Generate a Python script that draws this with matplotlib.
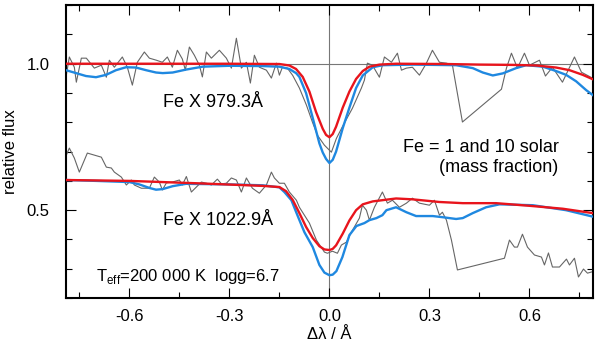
import matplotlib

matplotlib.use("Agg")
import matplotlib.pyplot as plt
from matplotlib.ticker import MultipleLocator

plt.rcParams["font.family"] = ["Liberation Sans", "DejaVu Sans"]
plt.rcParams["mathtext.fontset"] = "custom"
plt.rcParams["mathtext.rm"] = "Liberation Sans"
plt.rcParams["axes.unicode_minus"] = False

# observed spectrum, Fe X 979.3 (continuum at 1.0)
obs_top_x = [-0.789, -0.780, -0.765, -0.759, -0.744, -0.729, -0.705, -0.684, -0.669, -0.660,
             -0.645, -0.621, -0.606, -0.591, -0.576, -0.555, -0.540, -0.519, -0.501, -0.486,
             -0.471, -0.456, -0.441, -0.432, -0.420, -0.405, -0.390, -0.381, -0.369, -0.354,
             -0.330, -0.309, -0.294, -0.279, -0.264, -0.249, -0.237, -0.225, -0.210, -0.189,
             -0.174, -0.159, -0.150, -0.141, -0.126, -0.110, -0.090, -0.069, -0.051, -0.036,
             -0.015, 0.006, 0.021, 0.039, 0.069, 0.096, 0.105, 0.114, 0.129, 0.150,
             0.165, 0.186, 0.204, 0.216, 0.231, 0.249, 0.270, 0.291, 0.309, 0.330,
             0.351, 0.369, 0.399, 0.516, 0.531, 0.546, 0.564, 0.585, 0.600, 0.630,
             0.648, 0.669, 0.699, 0.735, 0.756, 0.789]
obs_top_y = [0.961, 1.023, 0.988, 0.937, 1.019, 1.019, 0.985, 0.995, 0.954, 1.012,
             0.988, 1.023, 0.988, 0.927, 1.005, 1.040, 1.019, 1.012, 1.005, 1.023,
             0.988, 1.046, 1.016, 0.978, 1.057, 1.029, 0.995, 0.955, 1.040, 1.019,
             1.046, 1.019, 0.985, 1.087, 0.985, 1.005, 0.934, 1.029, 0.988, 0.978,
             0.951, 1.002, 0.961, 0.988, 0.985, 0.960, 0.917, 0.859, 0.801, 0.756,
             0.722, 0.698, 0.745, 0.785, 0.848, 0.917, 0.944, 1.002, 0.995, 0.954,
             1.023, 1.005, 1.036, 0.978, 0.985, 0.988, 0.961, 1.002, 1.046, 1.005,
             1.002, 0.995, 0.801, 0.913, 0.985, 1.036, 0.985, 1.036, 0.995, 1.012,
             0.958, 0.988, 0.937, 1.023, 0.971, 0.951]

# observed spectrum, Fe X 1022.9 (shifted down)
obs_low_x = [-0.789, -0.780, -0.765, -0.750, -0.726, -0.705, -0.684, -0.669, -0.654, -0.645,
             -0.624, -0.609, -0.594, -0.585, -0.564, -0.540, -0.525, -0.510, -0.501, -0.489,
             -0.471, -0.450, -0.441, -0.429, -0.414, -0.384, -0.369, -0.354, -0.336, -0.324,
             -0.309, -0.294, -0.279, -0.264, -0.249, -0.231, -0.210, -0.189, -0.174, -0.165,
             -0.150, -0.135, -0.120, -0.099, -0.090, -0.060, -0.039, -0.015, -0.006, 0.009,
             0.024, 0.036, 0.051, 0.066, 0.090, 0.099, 0.111, 0.120, 0.135, 0.159,
             0.174, 0.189, 0.210, 0.231, 0.249, 0.270, 0.300, 0.315, 0.330, 0.339,
             0.351, 0.366, 0.384, 0.525, 0.540, 0.555, 0.564, 0.579, 0.594, 0.615,
             0.636, 0.645, 0.657, 0.669, 0.690, 0.711, 0.720, 0.735, 0.747, 0.762,
             0.774, 0.789]
obs_low_y = [0.688, 0.712, 0.678, 0.630, 0.695, 0.688, 0.681, 0.647, 0.644, 0.630,
             0.613, 0.586, 0.603, 0.586, 0.575, 0.575, 0.613, 0.596, 0.569, 0.593,
             0.596, 0.603, 0.586, 0.615, 0.562, 0.596, 0.592, 0.586, 0.606, 0.590,
             0.592, 0.610, 0.603, 0.562, 0.610, 0.575, 0.558, 0.586, 0.630, 0.610,
             0.592, 0.592, 0.562, 0.534, 0.510, 0.456, 0.398, 0.357, 0.353, 0.360,
             0.353, 0.381, 0.391, 0.425, 0.473, 0.517, 0.500, 0.466, 0.510, 0.562,
             0.524, 0.534, 0.510, 0.524, 0.541, 0.524, 0.517, 0.534, 0.483, 0.493,
             0.466, 0.398, 0.296, 0.336, 0.398, 0.374, 0.374, 0.418, 0.374, 0.347,
             0.340, 0.313, 0.354, 0.306, 0.306, 0.333, 0.313, 0.336, 0.272, 0.299,
             0.285, 0.290]

# model, Fe = 1 solar (red)
red_top_x = [-0.79, -0.30, -0.15, -0.12, -0.10, -0.08, -0.06, -0.04, -0.02, -0.01,
             0.0, 0.01, 0.02, 0.04, 0.06, 0.08, 0.10, 0.12, 0.15, 0.20,
             0.35, 0.45, 0.55, 0.62, 0.68, 0.72, 0.76, 0.79]
red_top_y = [1.0, 1.0, 0.999, 0.994, 0.982, 0.955, 0.905, 0.835, 0.778, 0.757,
             0.749, 0.760, 0.785, 0.850, 0.905, 0.948, 0.975, 0.990, 0.997, 1.0,
             0.999, 0.997, 0.996, 0.994, 0.987, 0.978, 0.962, 0.947]
red_low_x = [-0.79, -0.60, -0.40, -0.20, -0.15, -0.13, -0.11, -0.09, -0.07, -0.05,
             -0.03, -0.015, 0.0, 0.01, 0.02, 0.04, 0.06, 0.08, 0.10, 0.13,
             0.20, 0.25, 0.33, 0.40, 0.50, 0.60, 0.70, 0.79]
red_low_y = [0.603, 0.600, 0.592, 0.583, 0.579, 0.565, 0.535, 0.490, 0.443, 0.405,
             0.377, 0.366, 0.364, 0.368, 0.380, 0.420, 0.465, 0.500, 0.520, 0.530,
             0.540, 0.537, 0.528, 0.524, 0.524, 0.515, 0.505, 0.490]

# model, Fe = 10 solar (blue)
blue_top_x = [-0.79, -0.76, -0.73, -0.70, -0.67, -0.64, -0.61, -0.58, -0.55, -0.52,
              -0.50, -0.47, -0.43, -0.38, -0.30, -0.20, -0.15, -0.12, -0.10, -0.09,
              -0.07, -0.05, -0.03, -0.02, -0.01, 0.0, 0.01, 0.02, 0.04, 0.06,
              0.08, 0.10, 0.13, 0.16, 0.25, 0.38, 0.43, 0.46, 0.49, 0.52,
              0.56, 0.59, 0.64, 0.68, 0.71, 0.74, 0.77, 0.79]
blue_top_y = [0.978, 0.968, 0.958, 0.954, 0.962, 0.978, 0.988, 0.987, 0.978, 0.970,
              0.968, 0.970, 0.980, 0.990, 0.993, 0.992, 0.990, 0.982, 0.968, 0.955,
              0.900, 0.815, 0.728, 0.697, 0.675, 0.661, 0.672, 0.700, 0.780, 0.850,
              0.917, 0.960, 0.988, 0.995, 0.997, 0.995, 0.985, 0.970, 0.960, 0.967,
              0.985, 0.995, 0.990, 0.975, 0.962, 0.940, 0.910, 0.893]
blue_low_x = [-0.79, -0.70, -0.60, -0.57, -0.54, -0.52, -0.50, -0.47, -0.43, -0.30,
              -0.20, -0.15, -0.135, -0.114, -0.096, -0.075, -0.05, -0.03, -0.015, 0.0,
              0.01, 0.021, 0.039, 0.06, 0.081, 0.105, 0.12, 0.141, 0.159, 0.171,
              0.20, 0.231, 0.26, 0.31, 0.34, 0.38, 0.40, 0.43, 0.47, 0.51,
              0.61, 0.71, 0.79]
blue_low_y = [0.603, 0.600, 0.596, 0.588, 0.576, 0.570, 0.572, 0.582, 0.590, 0.588,
              0.585, 0.578, 0.562, 0.534, 0.483, 0.425, 0.374, 0.313, 0.287, 0.278,
              0.280, 0.292, 0.340, 0.415, 0.446, 0.456, 0.466, 0.473, 0.483, 0.500,
              0.510, 0.493, 0.480, 0.480, 0.476, 0.470, 0.473, 0.490, 0.510, 0.520,
              0.517, 0.500, 0.478]

RED = "#e8141c"
BLUE = "#1f88e0"
GRAY = "#666666"

fig = plt.figure(figsize=(6.0, 3.43), dpi=100)
ax = fig.add_axes([0.11, 0.131, 0.878, 0.854])

ax.axhline(1.0, color="#777777", lw=0.8, zorder=1)
ax.axvline(0.0, color="#777777", lw=0.8, zorder=1)

ax.plot(obs_top_x, obs_top_y, color=GRAY, lw=0.8, zorder=2)
ax.plot(obs_low_x, obs_low_y, color=GRAY, lw=0.8, zorder=2)
ax.plot(blue_top_x, blue_top_y, color=BLUE, lw=1.7, zorder=3)
ax.plot(blue_low_x, blue_low_y, color=BLUE, lw=1.7, zorder=3)
ax.plot(red_top_x, red_top_y, color=RED, lw=1.7, zorder=4)
ax.plot(red_low_x, red_low_y, color=RED, lw=1.7, zorder=4)

ax.set_xlim(-0.79, 0.79)
ax.set_ylim(0.2, 1.2)
ax.xaxis.set_major_locator(MultipleLocator(0.3))
ax.xaxis.set_minor_locator(MultipleLocator(0.15))
ax.yaxis.set_major_locator(MultipleLocator(0.5))
ax.yaxis.set_minor_locator(MultipleLocator(0.1))
ax.tick_params(which="both", direction="in", top=True, right=True, width=0.8, labelsize=12)
ax.tick_params(which="major", length=7)
ax.tick_params(which="minor", length=4)
ax.tick_params(axis="y", pad=12)
ax.tick_params(axis="x", pad=8)
for spine in ax.spines.values():
    spine.set_linewidth(1.5)

ax.set_xlabel("Δλ / Å", fontsize=12, labelpad=2)
ax.set_ylabel("relative flux", fontsize=12, labelpad=6)

ax.text(-0.498, 0.866, "Fe X 979.3Å", fontsize=13, va="center", ha="left")
ax.text(-0.498, 0.466, "Fe X 1022.9Å", fontsize=13, va="center", ha="left")
ax.text(0.687, 0.715, "Fe = 1 and 10 solar", fontsize=13, va="center", ha="right")
ax.text(0.687, 0.647, "(mass fraction)", fontsize=13, va="center", ha="right")
ax.text(-0.699, 0.272, r"T$_\mathrm{eff}$=200 000 K  logg=6.7", fontsize=12,
        va="center", ha="left")

fig.savefig("out.png", dpi=100)
